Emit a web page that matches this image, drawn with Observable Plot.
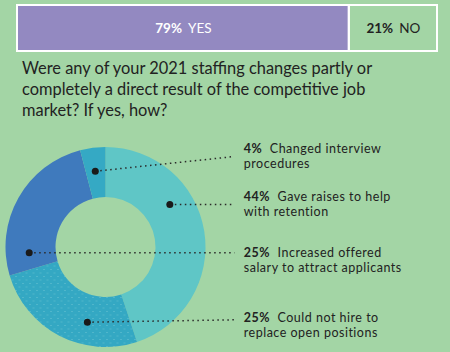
<!DOCTYPE html>
<html>
<head>
<meta charset="utf-8">
<script src="https://cdn.jsdelivr.net/npm/d3@7"></script>
<script src="https://cdn.jsdelivr.net/npm/@observablehq/plot@0.6"></script>
<style>
  html, body { margin: 0; padding: 0; }
  body { width: 450px; height: 352px; background: #a3d5a5; position: relative; overflow: hidden; font-family: Lato, "Open Sans", sans-serif; }
  #donut, #bar, #title { position: absolute; left: 0; }
  #donut { top: 0; }
  #bar { top: 0; }
  #title { top: 57px; left: 22px; width: 425px; font-size: 16.4px; line-height: 21px; color: #222; }
  #donut text { letter-spacing: 0.5px; }
</style>
</head>
<body>
<div id="donut"></div>
<div id="bar"></div>
<div id="title">Were any of your 2021 staffing changes partly or<br>completely a direct result of the competitive job<br>market? If yes, how?</div>
<script>
// ---- data ----
const answers = ["YES", "NO"];
const answerPct = [79, 21];

const reasons = [
  "Gave raises to help\nwith retention",
  "Could not hire to\nreplace open positions",
  "Increased offered\nsalary to attract applicants",
  "Changed interview\nprocedures"
];
const reasonPct = [44, 25, 25, 4];

// ---- styles / layout (not data) ----
const answerFill = ["#9389c1", "none"];
const answerText = ["#ffffff", "#222222"];
const sliceFill = ["#5fc6c6", "url(#dots)", "#3f7abd", "#35a9c4"];
const dotAngleDeg = [56, 194, 266, 352];   // where the marker dot sits in each slice
const dotRadius = 0.77;
const leaderEndX = 1.285;
const labelX = 1.378;
const leaderEndY = [0.43, -0.723, -0.053, 0.91];
const labelY = [0.427, -0.775, -0.13, 0.907];
const fontFamily = "Lato";
const fontStack = "Lato, 'Open Sans', sans-serif";
const barFont = 13.5, labelFont = 12.5, lineStep = 15, labelSpacing = 0.5;

// text measuring helper
const ctx = document.createElement("canvas").getContext("2d");
function textWidth(s, size, weight, spacing = 0) {
  ctx.font = `${weight} ${size}px ${fontFamily}`;
  return ctx.measureText(s).width + spacing * s.length;
}

// ---- top bar ----
const barData = answers.map((a, i) => ({answer: a, pct: answerPct[i], i}));
let acc = 0;
barData.forEach(d => {
  d.x1 = acc; acc += d.pct; d.x2 = acc;
  d.pctLabel = d.pct + "%";
  d.wb = textWidth(d.pctLabel, barFont, "bold");
  d.gap = barFont * 0.45;
  d.w = d.wb + d.gap + textWidth(d.answer, barFont, "normal");
});

const bar = Plot.plot({
  width: 450, height: 56,
  marginLeft: 17, marginRight: 13, marginTop: 5, marginBottom: 5,
  style: {background: "transparent", fontFamily: fontStack, overflow: "visible"},
  x: {domain: [0, 100], axis: null},
  y: {axis: null, domain: ["all"], padding: 0},
  marks: [
    Plot.barX(barData, {x1: "x1", x2: "x2", y: () => "all", fill: d => answerFill[d.i], stroke: "#ffffff", strokeWidth: 2}),
    ...barData.map(d => Plot.text([d], {x: d => (d.x1 + d.x2) / 2, y: () => "all", text: "pctLabel",
      textAnchor: "start", dx: -d.w / 2, fontWeight: "bold", fill: answerText[d.i], fontSize: barFont})),
    ...barData.map(d => Plot.text([d], {x: d => (d.x1 + d.x2) / 2, y: () => "all", text: "answer",
      textAnchor: "start", dx: -d.w / 2 + d.wb + d.gap, fill: answerText[d.i], fontSize: barFont}))
  ]
});
document.getElementById("bar").appendChild(bar);

// ---- donut ----
const slices = reasons.map((r, i) => ({label: r, pct: reasonPct[i], i}));
const pie = d3.pie().sort(null).value(d => d.pct)(slices);
const points = slices.map((d, i) => {
  const a = dotAngleDeg[i] * Math.PI / 180;
  const [line1, line2] = d.label.split("\n");
  return {...d, line1, line2, pctLabel: d.pct + "%",
    px: dotRadius * Math.sin(a), py: dotRadius * Math.cos(a)};
});

function arcs(index, scales) {
  const cx = scales.x(0), cy = scales.y(0), R = scales.x(1) - scales.x(0);
  const arc = d3.arc().innerRadius(R * 0.5).outerRadius(R);
  const g = d3.create("svg:g").attr("transform", `translate(${cx},${cy})`);
  const defs = g.append("defs");
  const pat = defs.append("pattern").attr("id", "dots").attr("patternUnits", "userSpaceOnUse")
    .attr("width", 7).attr("height", 7);
  pat.append("rect").attr("width", 7).attr("height", 7).attr("fill", "#34a8c3");
  pat.append("rect").attr("x", 1).attr("y", 1).attr("width", 1).attr("height", 1).attr("fill", "#6cc4d2");
  pat.append("rect").attr("x", 4.5).attr("y", 4.5).attr("width", 1).attr("height", 1).attr("fill", "#6cc4d2");
  g.selectAll("path").data(pie).join("path")
    .attr("d", arc)
    .attr("fill", d => sliceFill[d.data.i]);
  return g.node();
}

const labelGap = 7.5;
const donut = Plot.plot({
  width: 450, height: 352, margin: 0,
  style: {background: "transparent", fontFamily: fontStack, overflow: "visible"},
  x: {domain: [-1, 1], range: [5.5, 205.5], axis: null},
  y: {domain: [-1, 1], range: [347, 147], axis: null},
  marks: [
    arcs,
    Plot.link(points, {x1: "px", y1: "py", x2: () => leaderEndX, y2: d => leaderEndY[d.i],
      stroke: "#2a2a2a", strokeWidth: 1.5, strokeDasharray: "1.5 3.5", strokeLinecap: "butt"}),
    Plot.dot(points, {x: "px", y: "py", r: 3.5, fill: "#1a1a1a"}),
    Plot.text(points, {x: () => labelX, y: d => labelY[d.i], text: "pctLabel", dy: -lineStep / 2,
      textAnchor: "start", fontWeight: "bold", fontSize: labelFont, fill: "#222"}),
    ...points.map(p => Plot.text([p], {x: () => labelX, y: d => labelY[d.i], text: "line1", dy: -lineStep / 2,
      dx: textWidth(p.pctLabel, labelFont, "bold", labelSpacing) + labelGap,
      textAnchor: "start", fontSize: labelFont, fill: "#222"})),
    Plot.text(points, {x: () => labelX, y: d => labelY[d.i], text: "line2", dy: lineStep / 2,
      textAnchor: "start", fontSize: labelFont, fill: "#222"})
  ]
});
document.getElementById("donut").appendChild(donut);
</script>
</body>
</html>
